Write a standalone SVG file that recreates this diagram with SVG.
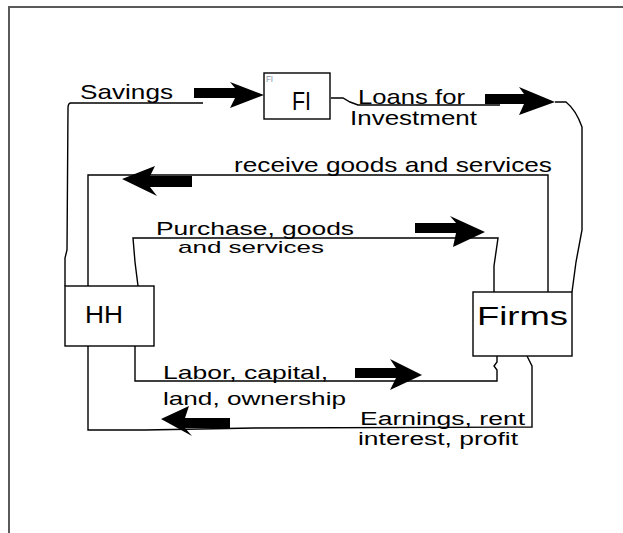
<svg xmlns="http://www.w3.org/2000/svg" width="623" height="533" viewBox="0 0 623 533">
<style>
.ln{fill:none;stroke:#000;stroke-width:1.4}
.box{fill:#fff;stroke:#000;stroke-width:1.4}
.ar{fill:#000}
.t{font-family:"Liberation Sans",Arial,sans-serif;fill:#000}
</style>
<rect x="0" y="0" width="623" height="533" fill="#fff"/>
<path d="M9,533 V7 H623" fill="none" stroke="#5a5a5a" stroke-width="2"/>
<g id="connectors">
<path class="ln" d="M65,286 V258 L67,250 L68,108 Q68,103 71,103 H203"/>
<path class="ln" d="M331,98 H343 L350,102 L358,105 H500"/>
<path class="ln" d="M555,102 H566 Q576,110 582,127 V230 L576,262 L572,292"/>
<path class="ln" d="M88,286 V175 H548 V292"/>
<path class="ln" d="M138,286 L135,262 L133,238 H498 L494,266 V292"/>
<path class="ln" d="M88,346 V430 L145,430 L200,429 L254,428 L532,427 V366 L527,356"/>
<path class="ln" d="M135,346 V381 H497 V370 L494,366 L497,362 V356"/>
<polygon class="ar" points="194,88 235,88 230,82 264,95 230,108 235,98 194,98"/>
<polygon class="ar" points="485,94 524,94 519,87 555,102 519,115 524,104 485,104"/>
<polygon class="ar" points="192,176 150,176 155,166 122,179 157,196 150,187 192,187"/>
<polygon class="ar" points="415,223 456,223 450,216 485,232 453,247 456,233 415,233"/>
<polygon class="ar" points="355,368 396,368 390,359 422,375 390,390 396,378 355,378"/>
<polygon class="ar" points="230,418 185,418 189,406 161,419 192,436 185,428 230,428"/>
</g>
<g id="FI">
<rect class="box" x="264" y="73" width="66" height="46"/>
<text class="t" x="266" y="82" font-size="9" style="fill:#7f8fa8" textLength="7" lengthAdjust="spacingAndGlyphs">FI</text>
<text class="t" x="292" y="110" font-size="26" textLength="19" lengthAdjust="spacingAndGlyphs">FI</text>
</g>
<g id="HH">
<rect class="box" x="65" y="286" width="89" height="60"/>
<text class="t" x="85" y="323" font-size="23" textLength="38" lengthAdjust="spacingAndGlyphs">HH</text>
</g>
<g id="Firms">
<rect class="box" x="473" y="292" width="99" height="64"/>
<text class="t" x="477" y="325" font-size="26" textLength="91" lengthAdjust="spacingAndGlyphs">Firms</text>
</g>
<g id="labels">
<text class="t" x="80" y="99" font-size="21" textLength="93" lengthAdjust="spacingAndGlyphs">Savings</text>
<text class="t" x="358" y="104" font-size="21" textLength="107" lengthAdjust="spacingAndGlyphs">Loans for</text>
<text class="t" x="350" y="125" font-size="21" textLength="127" lengthAdjust="spacingAndGlyphs">Investment</text>
<text class="t" x="234" y="172" font-size="21" textLength="318" lengthAdjust="spacingAndGlyphs">receive goods and services</text>
<text class="t" x="156" y="235" font-size="18" textLength="198" lengthAdjust="spacingAndGlyphs">Purchase, goods</text>
<text class="t" x="178" y="253" font-size="17" textLength="146" lengthAdjust="spacingAndGlyphs">and services</text>
<text class="t" x="163" y="379" font-size="19" textLength="165" lengthAdjust="spacingAndGlyphs">Labor, capital,</text>
<text class="t" x="163" y="405" font-size="19" textLength="183" lengthAdjust="spacingAndGlyphs">land, ownership</text>
<text class="t" x="360" y="425" font-size="18" textLength="165" lengthAdjust="spacingAndGlyphs">Earnings, rent</text>
<text class="t" x="358" y="445" font-size="18" textLength="160" lengthAdjust="spacingAndGlyphs">interest, profit</text>
</g>
</svg>
